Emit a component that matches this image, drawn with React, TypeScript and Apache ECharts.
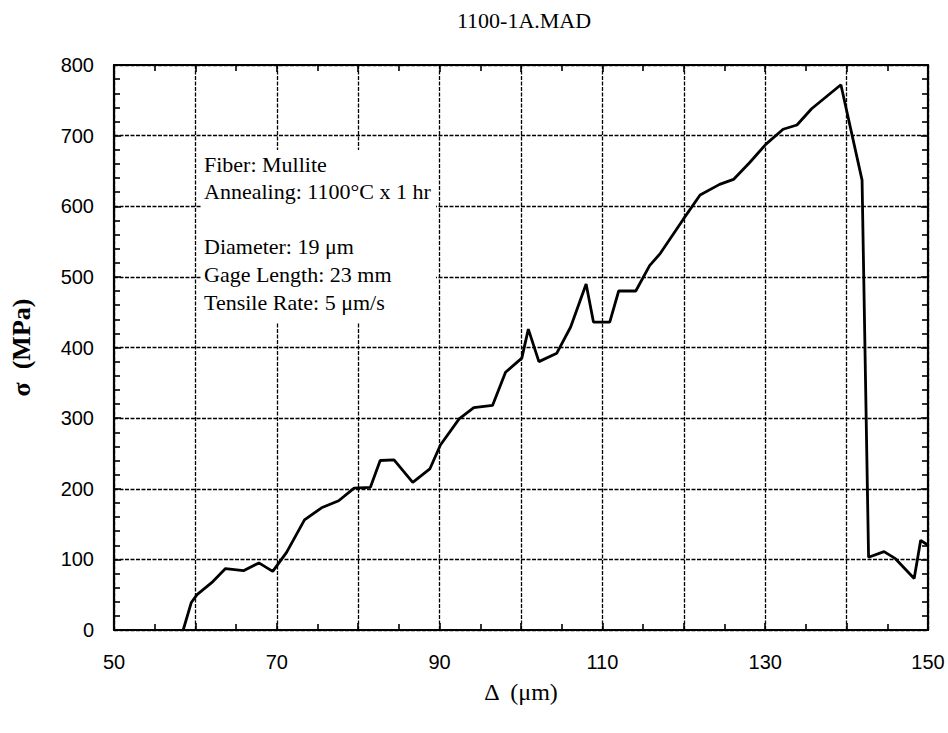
import React, { useEffect, useRef } from "react";
import * as echarts from "echarts";

const titleText = "1100-1A.MAD";
const xName = "Δ  (μm)";
const yName = "σ  (MPa)";
const noteLines = [
  "Fiber: Mullite",
  "Annealing: 1100°C x 1 hr",
  "",
  "Diameter: 19 μm",
  "Gage Length: 23 mm",
  "Tensile Rate: 5 μm/s",
];

const elongation = [
  58.5, 59.5, 60.2, 62.0, 63.7, 65.9, 67.8, 69.5, 71.2, 73.4, 75.5, 77.6, 79.5,
  81.5, 82.7, 84.4, 86.7, 88.8, 90.1, 92.4, 94.2, 96.5, 98.1, 100.1, 100.9,
  102.2, 104.4, 106.1, 108.0, 108.9, 110.9, 112.0, 114.1, 115.8, 117.1, 119.9,
  122.0, 124.4, 126.1, 128.1, 130.1, 132.2, 133.9, 135.7, 137.5, 139.3, 141.9,
  142.7, 144.6, 146.0, 148.3, 149.1, 150.0,
];
const stress = [
  0, 39, 50, 67, 87, 84, 95, 83, 110, 156, 173, 183, 201, 202, 240, 241, 209,
  228, 262, 299, 315, 318, 365, 385, 426, 380, 392, 429, 490, 436, 436, 480,
  480, 516, 533, 581, 616, 631, 638, 662, 688, 709, 715, 738, 755, 772, 637,
  103, 111, 101, 73, 127, 120,
];

export default function App() {
  const ref = useRef<HTMLDivElement>(null);
  useEffect(() => {
    document.body.style.margin = "0";
    const chart = echarts.init(ref.current!, null, { renderer: "svg" });
    const data = elongation.map((x, i) => [x, stress[i]]);
    const gridLine = { show: true, lineStyle: { color: "#000", width: 1.3, type: [4, 1.5] as any } };
    const axisLine = { show: true, onZero: false, lineStyle: { color: "#000", width: 2.2 } };
    const tick = { show: true, inside: true, length: 7, lineStyle: { color: "#000", width: 1.6 } };
    const tickFont = { fontFamily: "Liberation Sans", fontSize: 20, color: "#000" };
    chart.setOption({
      animation: false,
      backgroundColor: "#fff",
      title: {
        text: titleText,
        left: 519,
        top: 4,
        textAlign: "center",
        textStyle: { fontFamily: "Liberation Serif", fontSize: 22, fontWeight: "normal", color: "#000" },
      },
      grid: { left: 112, top: 65, right: 20, bottom: 103, containLabel: false },
      xAxis: [
        {
          type: "value",
          min: 50,
          max: 150,
          interval: 10,
          axisLine,
          axisTick: tick,
          minorTick: { show: true, splitNumber: 2, length: 6, lineStyle: { color: "#000", width: 1.6 } },
          splitLine: gridLine,
          axisLabel: {
            ...tickFont,
            margin: 22,
            formatter: (v: number) => ((v - 50) % 20 === 0 ? String(v) : ""),
          },
          name: xName,
          nameLocation: "middle",
          nameGap: 50,
          nameTextStyle: { fontFamily: "Liberation Serif", fontSize: 24, color: "#000" },
        },
        {
          type: "value",
          position: "top",
          min: 50,
          max: 150,
          interval: 10,
          axisLine,
          axisTick: tick,
          minorTick: { show: true, splitNumber: 2, length: 6, lineStyle: { color: "#000", width: 1.6 } },
          splitLine: { show: false },
          axisLabel: { show: false },
        },
      ],
      yAxis: [
        {
          type: "value",
          min: 0,
          max: 800,
          interval: 100,
          axisLine,
          axisTick: tick,
          minorTick: { show: true, splitNumber: 5, length: 6, lineStyle: { color: "#000", width: 1.6 } },
          splitLine: gridLine,
          axisLabel: { ...tickFont, margin: 20 },
          name: yName,
          nameLocation: "middle",
          nameGap: 80,
          nameRotate: 90,
          nameTextStyle: { fontFamily: "Liberation Serif", fontSize: 26, fontWeight: "bold", color: "#000" },
        },
        {
          type: "value",
          position: "right",
          min: 0,
          max: 800,
          interval: 100,
          axisLine,
          axisTick: tick,
          minorTick: { show: true, splitNumber: 5, length: 6, lineStyle: { color: "#000", width: 1.6 } },
          splitLine: { show: false },
          axisLabel: { show: false },
        },
      ],
      series: [
        {
          type: "line",
          data,
          xAxisIndex: 0,
          yAxisIndex: 0,
          symbol: "none",
          lineStyle: { color: "#000", width: 2.8 },
          clip: true,
          z: 5,
        },
      ],
      graphic: [
        {
          type: "rect",
          shape: { x: 202, y: 150, width: 234, height: 172 },
          style: { fill: "#fff" },
          z: 10,
        },
        ...noteLines.map((t, i) => ({
          type: "text",
          left: 204,
          top: 153 + i * 27.6,
          z: 11,
          style: {
            text: t,
            fontFamily: "Liberation Serif",
            fontSize: 22,
            fill: "#000",
          },
        })),
      ],
    });
    return () => chart.dispose();
  }, []);
  return <div ref={ref} style={{ position: "fixed", left: 0, top: 0, width: 948, height: 733 }} />;
}
